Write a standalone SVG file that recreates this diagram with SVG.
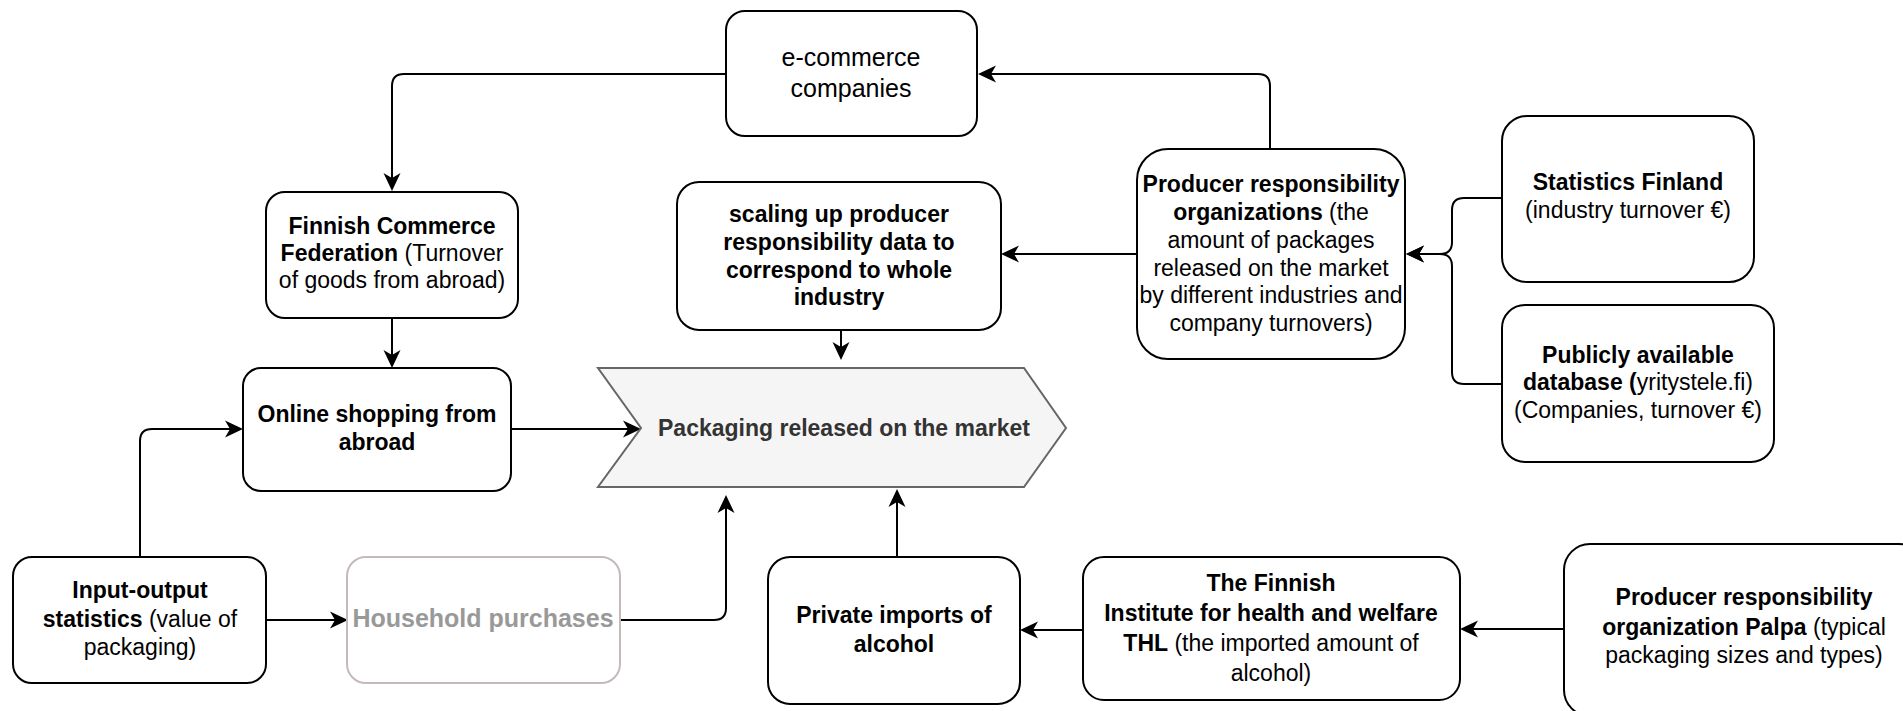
<svg xmlns="http://www.w3.org/2000/svg" width="1903" height="711" viewBox="0 0 1903 711">
<defs>
<style>
.box{fill:#fff;stroke:#000;stroke-width:2}
.gbox{fill:#fff;stroke:#c4baba;stroke-width:2}
.t{font-family:"Liberation Sans",Arial,sans-serif;font-size:23px;fill:#000;text-anchor:middle}
.b{font-weight:bold}
.n{font-weight:normal}
.c{fill:none;stroke:#000;stroke-width:2;marker-end:url(#arr)}
</style>
<marker id="arr" markerUnits="userSpaceOnUse" viewBox="0 0 18 18" markerWidth="18" markerHeight="18" refX="13" refY="9" orient="auto">
<path d="M0,0.5 L18,9 L0,17.5 L5,9 Z" fill="#000"/>
</marker>
</defs>
<rect width="1903" height="711" fill="#fff"/>
<g id="connectors">
<path class="c" d="M726,74 H404 Q392,74 392,86 V186"/>
<path class="c" d="M1270,149 V86 Q1270,74 1258,74 H983"/>
<path class="c" d="M1137,254 H1006"/>
<path class="c" d="M1502,198 H1464 Q1452,198 1452,210 V242 Q1452,254 1440,254 H1411"/>
<path class="c" d="M1502,384 H1464 Q1452,384 1452,372 V266 Q1452,254 1440,254 H1411"/>
<path class="c" d="M392,318 V363"/>
<path class="c" d="M511,429 H636"/>
<path class="c" d="M841,330 V355"/>
<path class="c" d="M140,557 V441 Q140,429 152,429 H238"/>
<path class="c" d="M266,620 H343"/>
<path class="c" d="M620,620 H714 Q726,620 726,608 V500"/>
<path class="c" d="M897,557 V494"/>
<path class="c" d="M1083,630 H1025"/>
<path class="c" d="M1564,629 H1465"/>
</g>
<g id="ecommerce">
<rect class="box" x="726" y="11" width="251" height="125" rx="19"/>
<text class="t" style="font-size:25px"><tspan x="851" y="66">e-commerce</tspan><tspan x="851" y="97">companies</tspan></text>
</g>
<g id="finnish-commerce">
<rect class="box" x="266" y="192" width="252" height="126" rx="19"/>
<text class="t"><tspan class="b" x="392" y="234">Finnish Commerce</tspan><tspan x="392" y="261"><tspan class="b">Federation</tspan> (Turnover</tspan><tspan x="392" y="288">of goods from abroad)</tspan></text>
</g>
<g id="scaling">
<rect class="box" x="677" y="182" width="324" height="148" rx="22"/>
<text class="t b"><tspan x="839" y="222">scaling up producer</tspan><tspan x="839" y="250">responsibility data to</tspan><tspan x="839" y="278">correspond to whole</tspan><tspan x="839" y="305">industry</tspan></text>
</g>
<g id="producer-orgs">
<rect class="box" x="1137" y="149" width="268" height="210" rx="31"/>
<text class="t"><tspan class="b" x="1271" y="192">Producer responsibility</tspan><tspan x="1271" y="220"><tspan class="b">organizations</tspan> (the</tspan><tspan x="1271" y="248">amount of packages</tspan><tspan x="1271" y="276">released on the market</tspan><tspan x="1271" y="303">by different industries and</tspan><tspan x="1271" y="331">company turnovers)</tspan></text>
</g>
<g id="statistics-finland">
<rect class="box" x="1502" y="116" width="252" height="166" rx="25"/>
<text class="t"><tspan class="b" x="1628" y="190">Statistics Finland</tspan><tspan x="1628" y="218">(industry turnover €)</tspan></text>
</g>
<g id="public-db">
<rect class="box" x="1502" y="305" width="272" height="157" rx="23"/>
<text class="t"><tspan class="b" x="1638" y="363">Publicly available</tspan><tspan x="1638" y="390"><tspan class="b">database (</tspan>yritystele.fi)</tspan><tspan x="1638" y="418">(Companies, turnover €)</tspan></text>
</g>
<g id="online-shopping">
<rect class="box" x="243" y="368" width="268" height="123" rx="18"/>
<text class="t b"><tspan x="377" y="422">Online shopping from</tspan><tspan x="377" y="450">abroad</tspan></text>
</g>
<g id="packaging">
<path d="M598,368 L1024,368 L1066,428 L1024,487 L598,487 L641,428 Z" fill="#f5f5f5" stroke="#666" stroke-width="2"/>
<text class="t b" x="844" y="436" style="fill:#333">Packaging released on the market</text>
</g>
<g id="input-output">
<rect class="box" x="13" y="557" width="253" height="126" rx="19"/>
<text class="t"><tspan class="b" x="140" y="598">Input-output</tspan><tspan x="140" y="627"><tspan class="b">statistics</tspan> (value of</tspan><tspan x="140" y="655">packaging)</tspan></text>
</g>
<g id="household">
<rect class="gbox" x="347" y="557" width="273" height="126" rx="19"/>
<text class="t b" x="483" y="627" style="font-size:25px;fill:#999">Household purchases</text>
</g>
<g id="private-imports">
<rect class="box" x="768" y="557" width="252" height="147" rx="22"/>
<text class="t b"><tspan x="894" y="623">Private imports of</tspan><tspan x="894" y="652">alcohol</tspan></text>
</g>
<g id="thl">
<rect class="box" x="1083" y="557" width="377" height="143" rx="21"/>
<text class="t"><tspan class="b" x="1271" y="591">The Finnish</tspan><tspan class="b" x="1271" y="621">Institute for health and welfare</tspan><tspan x="1271" y="651"><tspan class="b">THL</tspan> (the imported amount of</tspan><tspan x="1271" y="681">alcohol)</tspan></text>
</g>
<g id="palpa">
<rect class="box" x="1564" y="544" width="361" height="172" rx="26"/>
<text class="t"><tspan class="b" x="1744" y="605">Producer responsibility</tspan><tspan x="1744" y="635"><tspan class="b">organization Palpa</tspan> (typical</tspan><tspan x="1744" y="663">packaging sizes and types)</tspan></text>
</g>
</svg>
